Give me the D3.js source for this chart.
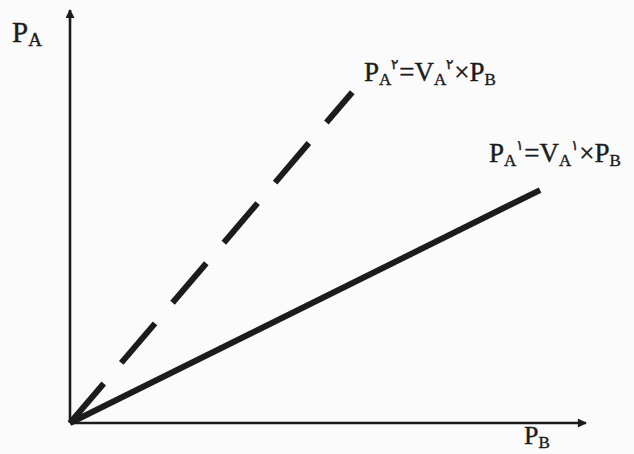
<!DOCTYPE html>
<html>
<head>
<meta charset="utf-8">
<script src="https://cdn.jsdelivr.net/npm/d3@7"></script>
<style>
  body { margin: 0; background: #fbfbfb; }
</style>
</head>
<body>
<svg id="chart"></svg>
<script>
const width = 634
const height = 454

// line data: P_B on x, P_A on y
const lineNames = ["PA1", "PA2"]
const pBValues = [[0, 9.11], [0, 5.47]]
const pAValues = [[0, 5.64], [0, 8.01]]
const lineDashed = [false, true]

// label text pieces: [text, role]
const labelTexts = [
  [["P", "n"], ["A", "sub"], ["۱", "sup"], ["=V", "n"], ["A", "sub"], ["۱", "sup"], ["×P", "n"], ["B", "sub"]],
  [["P", "n"], ["A", "sub"], ["۲", "sup"], ["=V", "n"], ["A", "sub"], ["۲", "sup"], ["×P", "n"], ["B", "sub"]]
]
const labelAnchors = [[489, 162], [364, 81]]

const serif = "'Liberation Serif', 'Times New Roman', Times, 'DejaVu Serif', serif"

const x = d3.scaleLinear().domain([0, 10]).range([70, 586])
const y = d3.scaleLinear().domain([0, 10]).range([423, 10])

const svg = d3.select("#chart")
  .attr("width", width)
  .attr("height", height)
  .style("background", "#fbfbfb")

svg.append("defs").append("marker")
  .attr("id", "arrow")
  .attr("viewBox", "0 0 10 10")
  .attr("refX", 9)
  .attr("refY", 5)
  .attr("markerUnits", "userSpaceOnUse")
  .attr("markerWidth", 11)
  .attr("markerHeight", 9)
  .attr("orient", "auto")
  .append("path")
  .attr("d", "M0,0L10,5L0,10Z")
  .attr("fill", "#1c1c1c")

const xAxis = svg.append("g")
  .attr("transform", `translate(0,${y(0)})`)
  .call(d3.axisBottom(x).tickValues([]).tickSizeOuter(0))
const yAxis = svg.append("g")
  .attr("transform", `translate(${x(0)},0)`)
  .call(d3.axisLeft(y).tickValues([]).tickSizeOuter(0))

xAxis.select(".domain").attr("d", `M${x(0)},0H${x(10)}`)
yAxis.select(".domain").attr("d", `M0,${y(0)}V${y(10)}`)
svg.selectAll(".domain")
  .attr("stroke", "#1c1c1c")
  .attr("stroke-width", 2.6)
  .attr("marker-end", "url(#arrow)")

const line = d3.line()
  .x(d => x(d[0]))
  .y(d => y(d[1]))

svg.selectAll("path.series")
  .data(lineNames)
  .join("path")
  .attr("class", "series")
  .attr("d", (d, i) => line(d3.zip(pBValues[i], pAValues[i])))
  .attr("fill", "none")
  .attr("stroke", "#1c1c1c")
  .attr("stroke-width", 6)
  .attr("stroke-dasharray", (d, i) => lineDashed[i] ? "52,27" : null)

function writeLabel(g, parts, big) {
  const small = Math.round(big * 0.64)
  const tiny = Math.round(big * 0.5)
  let level = 0
  parts.forEach(([t, role]) => {
    const target = role === "sub" ? 4 : role === "sup" ? -12 : 0
    g.append("tspan")
      .attr("dy", target - level)
      .attr("font-size", role === "sub" ? small : role === "sup" ? tiny : big)
      .text(t)
    level = target
  })
}

function addText(px, py) {
  return svg.append("text")
    .attr("x", px)
    .attr("y", py)
    .attr("font-family", serif)
    .attr("fill", "#1c1c1c")
    .attr("stroke", "#1c1c1c")
    .attr("stroke-width", 0.4)
}

labelTexts.forEach((parts, i) => {
  writeLabel(addText(labelAnchors[i][0], labelAnchors[i][1]), parts, 27)
})

writeLabel(addText(12, 42), [["P", "n"], ["A", "sub"]], 29)
writeLabel(addText(524, 444), [["P", "n"], ["B", "sub"]], 26)
</script>
</body>
</html>
